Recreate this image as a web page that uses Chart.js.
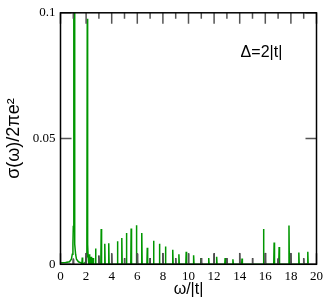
<!DOCTYPE html>
<html>
<head>
<meta charset="utf-8">
<script src="https://cdn.jsdelivr.net/npm/chart.js@4"></script>
<style>
  html, body { margin: 0; padding: 0; background: #fff; }
  #wrap { width: 327px; height: 304px; }
</style>
</head>
<body>
<div id="wrap"><canvas id="chart" width="327" height="304"></canvas></div>
<script>
// --- DATOS ---
// pico principal (forma)
const mainW = [0, 0.4, 0.7, 0.85, 0.92, 0.97, 1.0, 1.04, 1.06, 1.09, 1.13, 1.18, 1.25, 1.4, 1.6];
const mainS = [0.0006, 0.0007, 0.001, 0.002, 0.004, 0.008, 0.015, 0.3, 0.3, 0.015, 0.008, 0.004, 0.002, 0.001, 0.0006];

// segundo pico
const secondW = [1.95, 2.02, 2.06, 2.09, 2.12, 2.16, 2.2];
const secondS = [0.0008, 0.003, 0.008, 0.0976, 0.008, 0.003, 0.0015];

// picos estrechos (verde)
const greenW = [1.7, 2.25, 2.4, 2.55, 2.74, 3.18, 3.46, 3.77, 4.45, 4.79, 5.15, 5.52, 5.93, 6.35, 6.78,
  7.27, 7.73, 8.2, 8.77, 9.25, 9.82, 10.4, 10.97, 11.58, 12.2, 12.86, 13.47, 14.18,
  15.86, 16.69, 17.08, 17.85, 18.62, 19.32];
const greenH = [0.0027, 0.004, 0.003, 0.0025, 0.0063, 0.014, 0.0082, 0.0084, 0.0092, 0.0105, 0.0124, 0.0142, 0.0155, 0.0124, 0.0066,
  0.0094, 0.0082, 0.0071, 0.0058, 0.004, 0.005, 0.0036, 0.0025, 0.0025, 0.003, 0.0025, 0.002, 0.0023,
  0.014, 0.0087, 0.0069, 0.0154, 0.0047, 0.005];

// picos de la serie negra
const blackW = [1, 2, 3, 4, 5, 6, 7, 8, 9, 10, 11, 12, 13, 14, 15, 16, 17, 18, 19];
const blackH = [0.002, 0.0045, 0.0035, 0.0043, 0.0025, 0.0042, 0.0025, 0.0045, 0.0025, 0.0043,
  0.0025, 0.0043, 0.0025, 0.0045, 0.0025, 0.0045, 0.0022, 0.0045, 0.0024];

const xTicks = [0, 2, 4, 6, 8, 10, 12, 14, 16, 18, 20];
const yTicks = [0, 0.05, 0.1];
const yLabels = ['0', '0.05', '0.1'];

const halfWidth = 0.03; // ancho de cada pico fino

// --- FUNCIONES ---
const sticks = (ws, hs) => {
  const pts = [];
  ws.forEach((w, i) => {
    pts.push({ x: w - halfWidth, y: 0 }, { x: w, y: hs[i] }, { x: w + halfWidth, y: 0 });
  });
  return pts;
};

const curve = (ws, ss) => ws.map((w, i) => ({ x: w, y: ss[i] }));

const greenData = [...curve(mainW, mainS), ...curve(secondW, secondS), ...sticks(greenW, greenH)]
  .sort((a, b) => a.x - b.x);
const blackData = [{ x: 0, y: 0 }, ...sticks(blackW, blackH), { x: 20, y: 0 }];

// marco y marcas hacia adentro
const framePlugin = {
  id: 'frame',
  afterDatasetsDraw(chart) {
    const { ctx, chartArea: a, scales: { x, y } } = chart;
    ctx.save();
    ctx.strokeStyle = '#555';
    ctx.lineWidth = 1.5;
    ctx.beginPath();
    for (let v = 0; v <= 20; v++) {
      const px = x.getPixelForValue(v);
      const len = v % 2 === 0 ? 11 : 6;
      ctx.moveTo(px, a.bottom); ctx.lineTo(px, a.bottom - len);
      ctx.moveTo(px, a.top); ctx.lineTo(px, a.top + len);
    }
    yTicks.forEach(v => {
      const py = y.getPixelForValue(v);
      ctx.moveTo(a.left, py); ctx.lineTo(a.left + 11, py);
      ctx.moveTo(a.right, py); ctx.lineTo(a.right - 11, py);
    });
    ctx.stroke();
    ctx.strokeStyle = '#000';
    ctx.lineWidth = 1.5;
    ctx.strokeRect(a.left, a.top, a.right - a.left, a.bottom - a.top);

    ctx.fillStyle = '#000';
    ctx.font = '16px "Liberation Sans", Arial, sans-serif';
    ctx.textAlign = 'center';
    ctx.textBaseline = 'middle';
    ctx.fillText('\u0394=2|t|', x.getPixelForValue(15.7), y.getPixelForValue(0.0842));
    ctx.restore();
  }
};

const chart = new Chart(document.querySelector('#chart'), {
  type: 'scatter',
  data: {
    datasets: [
      { data: blackData, showLine: true, borderColor: '#222', borderWidth: 1, pointRadius: 0, tension: 0 },
      { data: greenData, showLine: true, borderColor: 'rgb(0,150,0)', borderWidth: 1.5, pointRadius: 0, tension: 0 }
    ]
  },
  options: {
    responsive: false,
    animation: false,
    events: [],
    layout: { padding: { left: 0, right: 9.3, top: 7, bottom: 0 } },
    plugins: { legend: { display: false }, tooltip: { enabled: false } },
    scales: {
      x: {
        type: 'linear', min: 0, max: 20,
        grid: { display: false, drawTicks: false },
        border: { display: false },
        afterBuildTicks: s => { s.ticks = xTicks.map(v => ({ value: v })); },
        afterFit: s => { s.height = 39.7; },
        ticks: { padding: 4, color: '#000', font: { family: '"Liberation Serif", "Times New Roman", serif', size: 13 } },
        title: { display: true, text: '\u03c9/|t|', color: '#000', padding: { top: 0, bottom: 5 },
          font: { family: '"Liberation Sans", Arial, sans-serif', size: 16 } }
      },
      y: {
        type: 'linear', min: 0, max: 0.1,
        grid: { display: false, drawTicks: false },
        border: { display: false },
        afterBuildTicks: s => { s.ticks = yTicks.map(v => ({ value: v })); },
        afterFit: s => { s.width = 60.5; },
        ticks: {
          padding: 5, color: '#000', font: { family: '"Liberation Serif", "Times New Roman", serif', size: 13 },
          callback: (v, i) => yLabels[i]
        },
        title: { display: true, text: '\u03c3(\u03c9)/2\u03c0e\u00b2', color: '#000', padding: { top: 3, bottom: 0 },
          font: { family: '"Liberation Sans", Arial, sans-serif', size: 18 } }
      }
    }
  },
  plugins: [framePlugin]
});
</script>
</body>
</html>
